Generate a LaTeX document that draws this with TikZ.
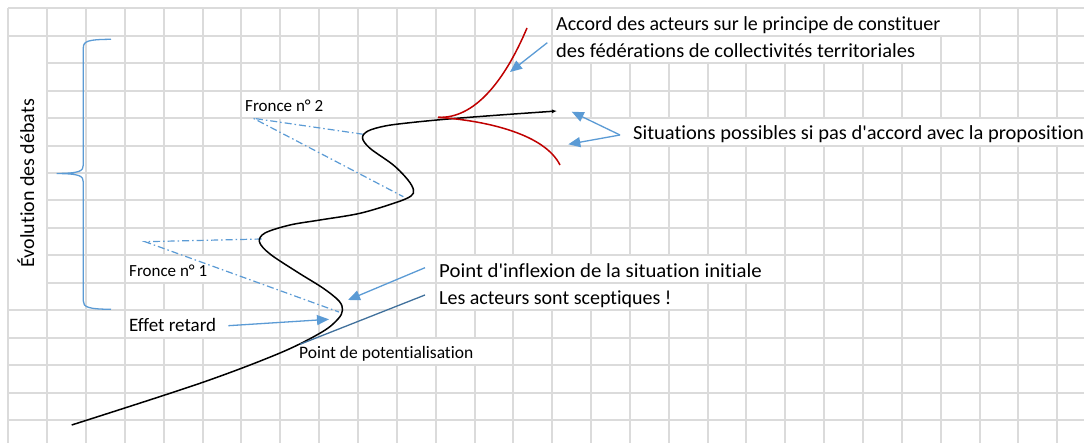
\documentclass[tikz,border=0pt]{standalone}
\usepackage{fontspec}
\setmainfont{Carlito}[Ligatures={TeXOff,CommonOff}]
\usetikzlibrary{arrows.meta}
\definecolor{gridc}{HTML}{DBDBDB}
\definecolor{lblue}{HTML}{5B9BD5}
\definecolor{dblue}{HTML}{41719C}
\definecolor{dred}{HTML}{C00000}
\begin{document}
\begin{tikzpicture}[x=1pt,y=-1pt,
  gridline/.style={draw=gridc,line width=2pt},
  hidebox/.style={fill=white},
  lbl/.style={inner sep=0pt,font=\fontsize{20}{24}\selectfont,text=black},
  slbl/.style={inner sep=0pt,font=\fontsize{17}{20}\selectfont,text=black},
  barrow/.style={draw=lblue,line width=1.3pt,-{Triangle[length=12pt,width=10pt]}},
  dline/.style={draw=dblue,line width=1.3pt},
  dashdot/.style={draw=lblue,line width=1.2pt,dash pattern=on 7pt off 3pt on 1.5pt off 3pt},
  redc/.style={draw=dred,line width=1.5pt},
  blackc/.style={draw=black,line width=1.5pt},
  bracec/.style={draw=lblue,line width=1.3pt}]
\useasboundingbox (0,0) rectangle (1084,443);
\fill[white] (0,0) rectangle (1084,443);
% grid
\foreach \x in {8,47,86,125,164,203,241,280,319,358,397,436,475,513,552,591,630,669,708,746,785,824,863,902,941,980,1018,1057}
  \draw[gridline] (\x,8) -- (\x,443);
\foreach \y in {8,36,63,91,118,146,173,200,228,255,283,310,338,365,393,420}
  \draw[gridline] (8,\y) -- (1084,\y);
% areas where the grid is hidden by text
\fill[hidebox] (553.2,9.2) rectangle (978.8,34.8);
\fill[hidebox] (553.2,37.2) rectangle (939.8,61.8);
\fill[hidebox] (553.2,119.2) rectangle (1084,144.8);
\fill[hidebox] (242.2,92.2) rectangle (356.8,116.8);
\fill[hidebox] (126.2,256.2) rectangle (239.8,281.8);
\fill[hidebox] (437.2,256.2) rectangle (783.8,281.8);
\fill[hidebox] (437.2,284.2) rectangle (706.8,308.8);
\fill[hidebox] (126.2,311.2) rectangle (239.8,336.8);
\fill[hidebox] (281.2,339.2) rectangle (511.8,363.8);
\fill[hidebox] (9.2,37.2) rectangle (45.8,308.8);
% brace
\draw[bracec] (111,39.3) .. controls (88,39.5) and (83.3,41) .. (83.3,48) -- (83.3,165)
  .. controls (83.3,171) and (80,173.3) .. (56.7,173.5)
  .. controls (80,173.7) and (83.3,176) .. (83.3,182) -- (83.3,301)
  .. controls (83.3,307) and (88,309.2) .. (111,309.3);
% dash-dot lines (fronces)
\coordinate (f1a) at (145,241.7);
\coordinate (f1b) at (261.7,239);
\coordinate (f1c) at (339,312);
\coordinate (f2a) at (253.3,118.3);
\coordinate (f2b) at (363.3,134.3);
\coordinate (f2c) at (403.3,196.7);
\draw[dashdot] (f1b) -- (f1a) -- (f1c);
\draw[dashdot] (f2b) -- (f2a) -- (f2c);
% main black curve
\draw[blackc,-{Latex[length=5pt,width=4pt]}] plot[smooth,tension=0.55] coordinates {
 (71.7,425) (200,383.3) (280,353) (322,332) (338,319)
 (342.5,310) (339,301) (323.3,288.3) (296.7,271.7) (270,254) (259.5,242) (265,233)
 (290,225) (320,220) (360,213.3) (396.7,202.3) (411,196) (413.5,190) (408,180)
 (393.3,165) (370,148.3) (362.5,138) (368,131) (385,126) (410,122.7) (448.3,119)
 (500,115) (557,111)};
% red curves
\draw[redc] (438,117.3) .. controls (475,119) and (505,80) .. (527,28);
\draw[redc] (438,117.3) .. controls (490,121) and (545,135) .. (560,165);
% texts
\node[lbl,anchor=base west] (accord1) at (556,31) {Accord des acteurs sur le principe de constituer};
\node[lbl,anchor=base west] (accord2) at (556,58) {\scalebox{1.025}[1]{des fédérations de collectivités territoriales}};
\node[lbl,anchor=base west] (situ) at (633,140) {\scalebox{1.025}[1]{Situations possibles si pas d'accord avec la proposition}};
\node[lbl,anchor=base west] (inflex) at (439,277.3) {\scalebox{1.04}[1]{Point d'inflexion de la situation initiale}};
\node[lbl,anchor=base west] (scept) at (439,305) {Les acteurs sont sceptiques !};
\node[slbl,anchor=base west,font=\fontsize{17.5}{20}\selectfont] (potent) at (299,358.3) {Point de potentialisation};
\node[lbl,anchor=base west,font=\fontsize{19}{22}\selectfont] (retard) at (129,331.7) {Effet retard};
\node[slbl,anchor=base west] (fronce1) at (129,276.7) {Fronce n° 1};
\node[slbl,anchor=base west] (fronce2) at (245,111.7) {Fronce n° 2};
\node[lbl,anchor=base,rotate=90] (evol) at (34,183.3) {Évolution des débats};
% arrows
\coordinate (a1s) at (547.3,42.7);  \coordinate (a1t) at (510,72);
\coordinate (a2s) at (620,135);     \coordinate (a2t) at (571.7,111.7);
\coordinate (a3t) at (568.3,144.3);
\coordinate (a4s) at (425,267.7);   \coordinate (a4t) at (348,300);
\coordinate (a5s) at (228.3,325.7); \coordinate (a5t) at (329,319.3);
\coordinate (l6s) at (425,295);     \coordinate (l6t) at (300,344.3);
\draw[barrow] (a1s) -- (a1t);
\draw[barrow] (a2s) -- (a2t);
\draw[barrow] (a2s) -- (a3t);
\draw[barrow] (a4s) -- (a4t);
\draw[barrow] (a5s) -- (a5t);
\draw[dline] (l6s) -- (l6t);
\end{tikzpicture}
\end{document}
